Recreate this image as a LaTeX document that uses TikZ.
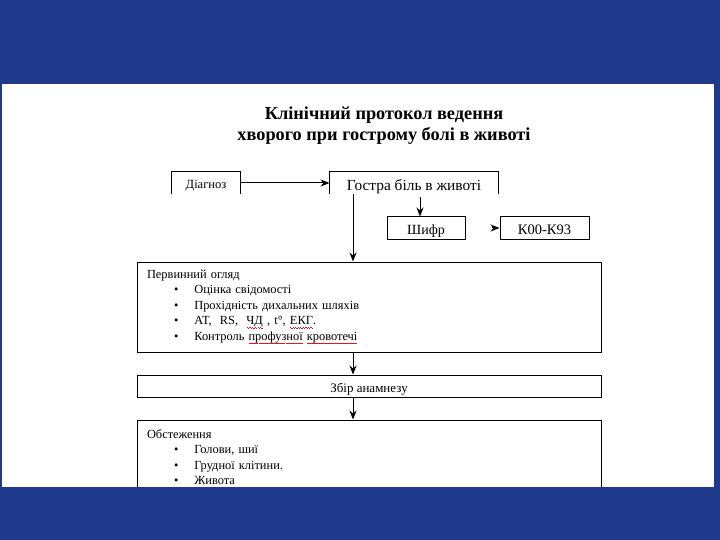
\documentclass[tikz,border=0pt]{standalone}
\usepackage{fontspec}
\setmainfont{Liberation Serif}
\usetikzlibrary{arrows.meta}

\definecolor{slideblue}{RGB}{31,58,138}
\definecolor{spellred}{RGB}{230,20,20}
\newcommand{\spellmark}[1]{\setbox0=\hbox{#1}\rlap{\color{spellred}\raisebox{-2.8pt}{\hbox to \wd0{\xleaders\hbox to 2.4pt{\rule{1.2pt}{0.7pt}\rule[-0.7pt]{1.2pt}{0.7pt}}\hfill}}}\box0\relax}

\begin{document}
\begin{tikzpicture}[x=1pt, y=-1pt, >={Stealth[length=9pt,width=7pt]}, line width=1pt,
		font=\fontsize{12.4}{15.5}\selectfont,
		box/.style={draw, inner sep=0pt, minimum height=22pt, text height=13.5pt, text depth=0pt},
		openbox/.style={inner sep=0pt, minimum height=22pt, text depth=0pt},
		listbox/.style={draw, inner sep=0pt, minimum width=464pt, text width=444pt, align=left}]
		% slide background
		\fill[slideblue] (0,0) rectangle (720,540);
		\fill[white] (2,84) rectangle (714,487);
		\useasboundingbox (0,0) rectangle (720,540);
		% title
		\node[font=\bfseries\fontsize{18.3}{21}\selectfont, align=center] (title) at (384,126)
			{Клінічний протокол ведення\\хворого при гострому болі в животі};
		% top row (boxes cut at the bottom)
		\node[openbox, text height=12pt, minimum width=68pt, font=\fontsize{12.5}{15}\selectfont] (diag) at (206,183) {Діагноз};
		\node[openbox, text height=15pt, minimum width=168pt, font=\fontsize{15.4}{16}\selectfont] (gostra) at (414,183) {Гостра біль в животі};
		\draw (diag.south west) |- (diag.north east) -- (diag.south east);
		\draw (gostra.south west) |- (gostra.north east) -- (gostra.south east);
		\coordinate (g1) at (gostra.north west |- diag.east);
		\draw[->] (diag.east) -- (g1);
		% code boxes
		\node[box, minimum width=78pt, font=\fontsize{14}{15}\selectfont] (shyfr) at (426,228) {Шифр};
		\node[box, minimum width=89pt, font=\fontsize{14.5}{15}\selectfont] (kod) at (544.5,228) {К00-К93};
		\coordinate (s1) at (420,197);
		\draw[->] (s1) -- (s1 |- shyfr.north);
		\coordinate (k1) at (492,228);
		\draw[->] (k1) -- (kod.west);
		% main column
		\node[listbox, minimum height=90pt] (pervyn) at (369,307) {%
			Первинний огляд\\
			\hspace*{27pt}\textbullet\hspace{16pt}Оцінка свідомості\\
			\hspace*{27pt}\textbullet\hspace{16pt}Прохідність дихальних шляхів\\
			\hspace*{27pt}\textbullet\hspace{16pt}АТ,\ \ RS,\ \ \spellmark{ЧД} , t°, \spellmark{ЕКГ}.\\
			\hspace*{27pt}\textbullet\hspace{16pt}Контроль \spellmark{профузної} \spellmark{кровотечі}};
		\node[box, minimum width=464pt, font=\fontsize{13}{15}\selectfont] (zbir) at (369,386) {Збір анамнезу};
		\node[listbox, minimum height=74pt] (obst) at (369,457) {%
			Обстеження\\
			\hspace*{27pt}\textbullet\hspace{16pt}Голови, шиї\\
			\hspace*{27pt}\textbullet\hspace{16pt}Грудної клітини.\\
			\hspace*{27pt}\textbullet\hspace{16pt}Живота};
		\coordinate (vx) at (353,0);
		\draw[->] (gostra.south -| vx) -- (pervyn.north -| vx);
		\draw[->] (pervyn.south -| vx) -- (zbir.north -| vx);
		\draw[->] (zbir.south -| vx) -- (obst.north -| vx);
		% bottom band over the cut box
		\fill[slideblue] (0,487) rectangle (720,540);
	\end{tikzpicture}
\end{document}
